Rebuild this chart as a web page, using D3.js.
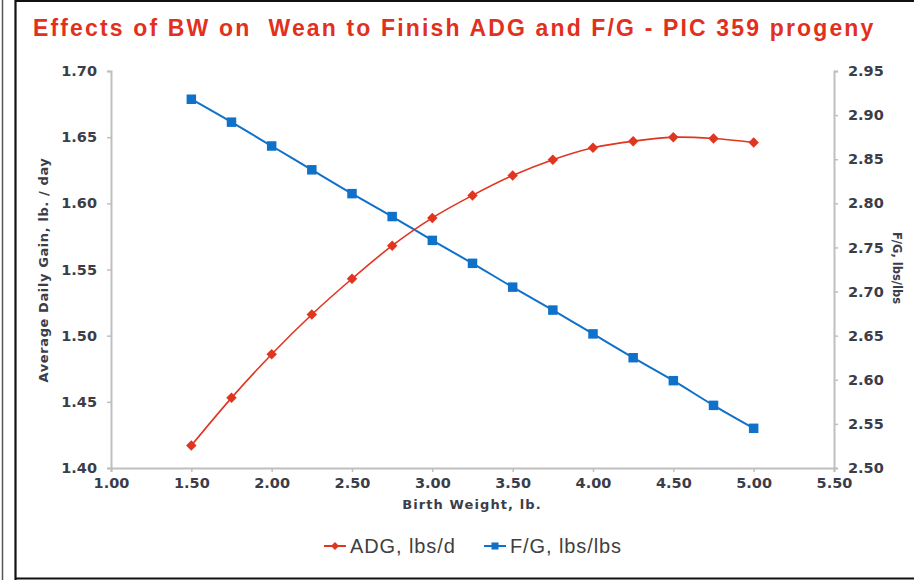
<!DOCTYPE html>
<html>
<head>
<meta charset="utf-8">
<script src="https://cdn.jsdelivr.net/npm/d3@7"></script>
<style>
  body { margin: 0; background: #fff; }
  svg { display: block; }
</style>
</head>
<body>
<svg id="chart" width="914" height="580"></svg>
<script>
// birth weight, lb.
var birthWeight = [1.50, 1.75, 2.00, 2.25, 2.50, 2.75, 3.00, 3.25, 3.50, 3.75, 4.00, 4.25, 4.50, 4.75, 5.00];
// ADG, lbs/d
var adg = [1.417, 1.453, 1.486, 1.516, 1.543, 1.568, 1.589, 1.606, 1.621, 1.633, 1.642, 1.647, 1.650, 1.649, 1.646];
// F/G, lbs/lbs
var feedGain = [2.918, 2.892, 2.865, 2.838, 2.811, 2.785, 2.758, 2.732, 2.705, 2.679, 2.652, 2.625, 2.599, 2.571, 2.545];

var xTicks = [1.0, 1.5, 2.0, 2.5, 3.0, 3.5, 4.0, 4.5, 5.0, 5.5];
var leftTicks = [1.40, 1.45, 1.50, 1.55, 1.60, 1.65, 1.70];
var rightTicks = [2.50, 2.55, 2.60, 2.65, 2.70, 2.75, 2.80, 2.85, 2.90, 2.95];

var titleText = "Effects of BW on  Wean to Finish ADG and F/G - PIC 359 progeny";
var seriesNames = ["ADG, lbs/d", "F/G, lbs/lbs"];

var red = "#e03520", blue = "#0f71c9";
var tickFont = "'DejaVu Sans', Verdana, sans-serif";
var sansFont = "'Liberation Sans', Arial, sans-serif";

var svg = d3.select("#chart");

// frame
svg.append("line").attr("x1", 2.5).attr("x2", 2.5).attr("y1", 0).attr("y2", 580)
   .attr("stroke", "#555").attr("stroke-width", 1.5);
svg.append("path")
   .attr("d", "M15.5,580 V1 H914 M15.5,578.5 H914")
   .attr("fill", "none").attr("stroke", "#111").attr("stroke-width", 2.2);

var x = d3.scaleLinear().domain([1.0, 5.5]).range([111, 834]);
var yL = d3.scaleLinear().domain([1.40, 1.70]).range([468, 71]);
var yR = d3.scaleLinear().domain([2.50, 2.95]).range([468, 71]);

// title
svg.append("text")
   .attr("x", 33).attr("y", 35.5)
   .style("white-space", "pre")
   .style("font-family", sansFont)
   .style("font-weight", "bold")
   .style("font-size", "23px")
   .style("letter-spacing", "2.15px")
   .attr("fill", "#e2301e")
   .text(titleText);

function styleAxis(g) {
  g.select(".domain").attr("stroke", "#bfbfbf").attr("stroke-width", 2);
  g.selectAll(".tick line").attr("stroke", "#bfbfbf").attr("stroke-width", 1.5);
  g.selectAll(".tick text")
   .style("font-family", tickFont)
   .style("font-weight", "bold")
   .style("font-size", "14.5px")
   .attr("fill", "#3b3d48");
}

var fmt = d3.format(".2f");

svg.append("g").attr("transform", "translate(0,468)")
   .call(d3.axisBottom(x).tickValues(xTicks).tickFormat(fmt).tickSizeOuter(0).tickSize(4).tickPadding(6))
   .call(styleAxis);

svg.append("g").attr("transform", "translate(111,0)")
   .call(d3.axisLeft(yL).tickValues(leftTicks).tickFormat(fmt).tickSizeOuter(0).tickSize(4).tickPadding(10))
   .call(styleAxis);

svg.append("g").attr("transform", "translate(834,0)")
   .call(d3.axisRight(yR).tickValues(rightTicks).tickFormat(fmt).tickSizeOuter(0).tickSize(4).tickPadding(10))
   .call(styleAxis);

// axis titles
var axisTitle = function(sel, size, ls) {
  sel.style("font-family", tickFont)
     .style("font-weight", "bold")
     .style("font-size", size)
     .style("letter-spacing", ls)
     .attr("fill", "#3b3d48")
     .attr("text-anchor", "middle");
};
svg.append("text").attr("x", 472).attr("y", 509).text("Birth Weight, lb.").call(axisTitle, "13px", "1.1px");
svg.append("text").attr("transform", "translate(48,270) rotate(-90)").text("Average Daily Gain, lb. / day").call(axisTitle, "13px", "0.6px");
svg.append("text").attr("transform", "translate(893,268) rotate(90)").text("F/G, lbs/lbs").call(axisTitle, "11.5px", "0px");

// series
var pts = birthWeight.map(function(b, i) { return { bw: b, adg: adg[i], fg: feedGain[i] }; });

var adgLine = d3.line().x(function(d) { return x(d.bw); }).y(function(d) { return yL(d.adg); }).curve(d3.curveCatmullRom);
var fgLine = d3.line().x(function(d) { return x(d.bw); }).y(function(d) { return yR(d.fg); }).curve(d3.curveCatmullRom);

svg.append("path").datum(pts).attr("d", fgLine)
   .attr("fill", "none").attr("stroke", blue).attr("stroke-width", 2);
svg.append("path").datum(pts).attr("d", adgLine)
   .attr("fill", "none").attr("stroke", red).attr("stroke-width", 1.6);

var diamond = d3.symbol().type(d3.symbolDiamond2).size(70);
var square = d3.symbol().type(d3.symbolSquare).size(90);

svg.append("g").selectAll("path").data(pts).enter().append("path")
   .attr("d", square)
   .attr("transform", function(d) { return "translate(" + x(d.bw) + "," + yR(d.fg) + ")"; })
   .attr("fill", blue);

svg.append("g").selectAll("path").data(pts).enter().append("path")
   .attr("d", diamond)
   .attr("transform", function(d) { return "translate(" + x(d.bw) + "," + yL(d.adg) + ")"; })
   .attr("fill", red);

// legend
var legend = svg.append("g").attr("transform", "translate(0,546)");
var legendItems = [
  { name: seriesNames[0], color: red, sym: d3.symbol().type(d3.symbolDiamond2).size(40), x0: 324 },
  { name: seriesNames[1], color: blue, sym: d3.symbol().type(d3.symbolSquare).size(50), x0: 484 }
];
var li = legend.selectAll("g").data(legendItems).enter().append("g")
   .attr("transform", function(d) { return "translate(" + d.x0 + ",0)"; });
li.append("line").attr("x1", 0).attr("x2", 22).attr("y1", 0).attr("y2", 0)
  .attr("stroke", function(d) { return d.color; }).attr("stroke-width", 2);
li.append("path").attr("d", function(d) { return d.sym(); })
  .attr("transform", "translate(11,0)")
  .attr("fill", function(d) { return d.color; });
li.append("text").attr("x", 26).attr("y", 7)
  .style("font-family", sansFont)
  .style("font-size", "20px")
  .style("letter-spacing", "0.9px")
  .attr("fill", "#404040")
  .text(function(d) { return d.name; });
</script>
</body>
</html>
